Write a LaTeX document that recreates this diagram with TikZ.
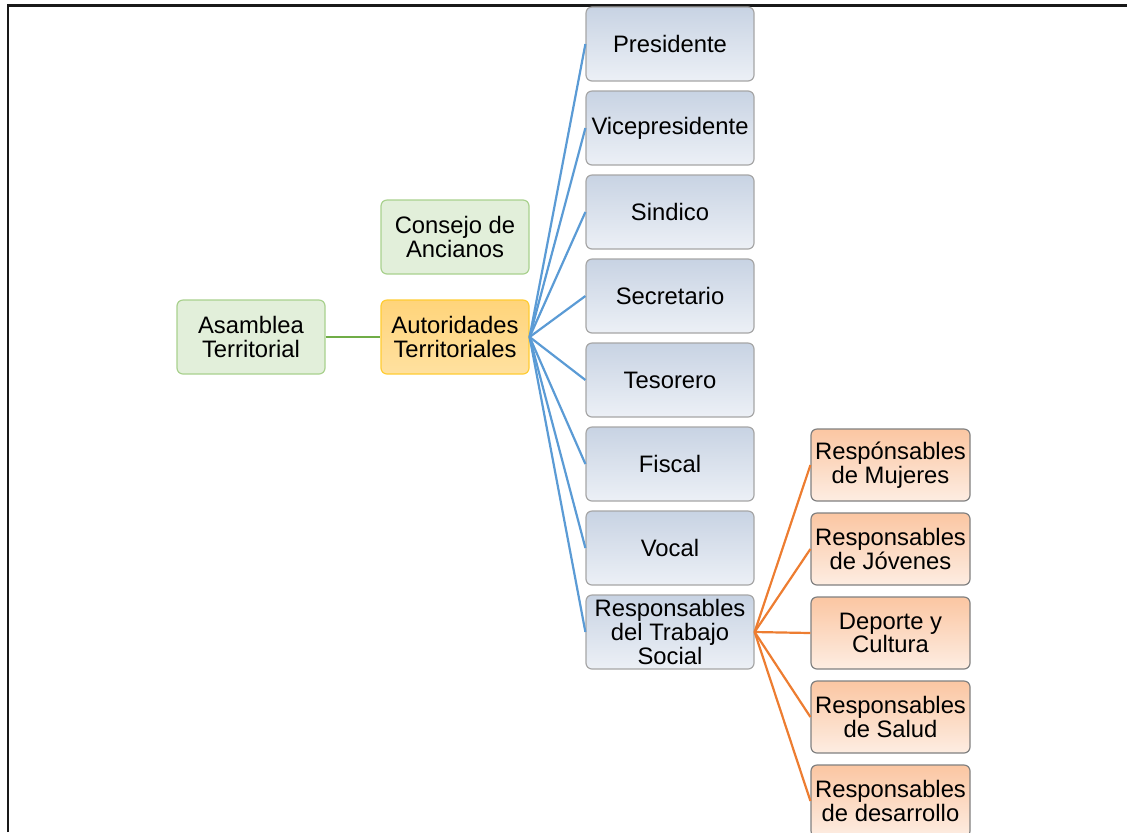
\documentclass[tikz,border=0pt]{standalone}
\usepackage{fontspec}
\setmainfont{Liberation Sans}
\usetikzlibrary{positioning}

\definecolor{asamfill}{HTML}{E2EFDA}
\definecolor{asamdraw}{HTML}{A9D18E}
\definecolor{asamline}{HTML}{70AD47}
\definecolor{autotop}{HTML}{FFD47A}
\definecolor{autobot}{HTML}{FFE1A0}
\definecolor{autodraw}{HTML}{FFCC33}
\definecolor{cargotop}{HTML}{C8D3E3}
\definecolor{cargobot}{HTML}{ECF0F6}
\definecolor{cargodraw}{HTML}{A6A6A6}
\definecolor{cargoline}{HTML}{5B9BD5}
\definecolor{resptop}{HTML}{FBC6A2}
\definecolor{respbot}{HTML}{FDEDE2}
\definecolor{respdraw}{HTML}{808080}
\definecolor{respline}{HTML}{ED7D31}

\begin{document}
\begin{tikzpicture}[x=0.5pt,y=-0.5pt,align=center,
  font=\fontsize{11.9}{11.9}\selectfont]
\tikzstyle{box}=[rectangle,rounded corners=3pt,inner sep=0pt,line width=0.6pt]
\tikzstyle{consejo}=[box,fill=asamfill,draw=asamdraw,minimum width=74pt,minimum height=37pt]
\tikzstyle{autoridad}=[box,top color=autotop,bottom color=autobot,draw=autodraw,minimum width=74pt,minimum height=37pt]
\tikzstyle{cargo}=[box,top color=cargotop,bottom color=cargobot,draw=cargodraw,minimum width=84pt,minimum height=37pt]
\tikzstyle{resp}=[box,top color=resptop,bottom color=respbot,draw=respdraw,minimum width=79.5pt,minimum height=36pt]
\tikzstyle{greenlink}=[-,draw=asamline,line width=1.1pt]
\tikzstyle{bluelink}=[-,draw=cargoline,line width=1.1pt]
\tikzstyle{orangelink}=[-,draw=respline,line width=1.1pt]

\useasboundingbox (0,0) rectangle (1127,832);
\draw[black!90,line width=1.1pt] (8,832) -- (8,5.5) -- (1127,5.5);

\node[autoridad] (auto) at (455,337) {Autoridades\\Territoriales};
\node[consejo] (cons) [above = 12.4pt of auto] {Consejo de\\Ancianos};
\node[consejo] (asam) [left = 27.4pt of auto] {Asamblea\\Territorial};

\node[cargo] (pres) at (670,44) {Presidente};
\node[cargo] (vice) [below = 4.4pt of pres] {Vicepresidente};
\node[cargo] (sind) [below = 4.4pt of vice] {Sindico};
\node[cargo] (secr) [below = 4.4pt of sind] {Secretario};
\node[cargo] (teso) [below = 4.4pt of secr] {Tesorero};
\node[cargo] (fisc) [below = 4.4pt of teso] {Fiscal};
\node[cargo] (voca) [below = 4.4pt of fisc] {Vocal};
\node[cargo] (trab) [below = 4.4pt of voca] {Responsables\\del Trabajo\\Social};

\node[resp] (muje) at (890.5,465) {Respónsables\\de Mujeres};
\node[resp] (jove) [below = 5.4pt of muje] {Responsables\\de Jóvenes};
\node[resp] (depo) [below = 5.4pt of jove] {Deporte y\\Cultura};
\node[resp] (salu) [below = 5.4pt of depo] {Responsables\\de Salud};
\node[resp] (desa) [below = 5.4pt of salu] {Responsables\\de desarrollo};

\path
  	(asam) edge [greenlink] (auto)
  	(auto.east) edge [bluelink] (pres.west)
  	(auto.east) edge [bluelink] (vice.west)
  	(auto.east) edge [bluelink] (sind.west)
  	(auto.east) edge [bluelink] (secr.west)
  	(auto.east) edge [bluelink] (teso.west)
  	(auto.east) edge [bluelink] (fisc.west)
  	(auto.east) edge [bluelink] (voca.west)
  	(auto.east) edge [bluelink] (trab.west);

\path
  	(trab.east) edge [orangelink] (muje.west)
  	(trab.east) edge [orangelink] (jove.west)
  	(trab.east) edge [orangelink] (depo.west)
  	(trab.east) edge [orangelink] (salu.west)
  	(trab.east) edge [orangelink] (desa.west);
\end{tikzpicture}
\end{document}
